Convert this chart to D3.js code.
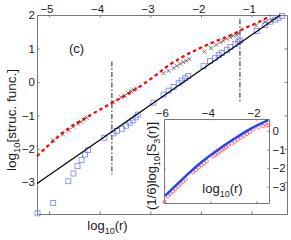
<!DOCTYPE html>
<meta charset="utf-8">
<html>
<head>
<script src="https://d3js.org/d3.v7.min.js"></script>
<style>
  body { margin: 0; background: #fff; }
  text { font-family: "Liberation Sans", Arial, Helvetica, sans-serif; fill: #1a1a1a; }
</style>
</head>
<body>
<script>
// ---- main panel data: log10(r) vs log10[struc. func.]
var xTicks = [-5, -4, -3, -2, -1];
var yTicks = [-3, -2, -1, 0, 1, 2];

// blue squares
var squares = [
  [-5.23,-3.93],[-4.92,-3.62],[-4.62,-2.97],[-4.52,-2.74],[-4.44,-2.52],[-4.36,-2.34],[-4.29,-2.17],[-4.23,-2.04],
  [-3.91,-1.67],[-3.73,-1.54],[-3.66,-1.47],
  [-3.56,-1.40],[-3.48,-1.31],[-3.41,-1.22],[-3.35,-1.15],[-3.29,-1.06],[-3.25,-0.98],
  [-2.94,-0.62],[-2.74,-0.38],[-2.64,-0.26],[-2.54,-0.15],[-2.44,-0.04],[-2.38,0.04],[-2.31,0.11],[-2.25,0.18],
  [-1.95,0.47],[-1.82,0.62],[-1.72,0.72],[-1.65,0.80],[-1.59,0.86],[-1.49,0.96],[-1.42,1.04],[-1.32,1.13],[-1.26,1.20],[-1.23,1.24],
  [-0.90,1.52],[-0.73,1.70],[-0.63,1.80],[-0.53,1.86],[-0.47,1.91],[-0.40,1.97]
];

// black x markers
var crosses = [
  [-4.92,-1.75],[-4.73,-1.57],[-4.61,-1.45],[-4.52,-1.34],[-4.43,-1.25],[-4.37,-1.19],[-4.31,-1.13],[-4.26,-1.07],
  [-3.73,-0.61],[-3.58,-0.46],[-3.51,-0.41],[-3.44,-0.33],[-3.38,-0.28],[-3.33,-0.23],[-3.28,-0.20],
  [-2.74,0.26],[-2.64,0.33],[-2.54,0.41],[-2.48,0.48],[-2.41,0.54],[-2.35,0.59],[-2.29,0.63],[-2.23,0.68],
  [-1.93,0.91],[-1.80,1.01],[-1.70,1.11],[-1.62,1.18],[-1.56,1.23],[-1.49,1.29],[-1.42,1.33],[-1.36,1.38],[-1.30,1.41],[-1.26,1.44],
  [-0.91,1.69],[-0.73,1.79],[-0.60,1.86]
];

// red dashed curve
var redCurve = [
  [-5.24,-2.22],[-4.93,-1.78],[-4.60,-1.37],[-4.27,-1.07],[-3.94,-0.78],[-3.74,-0.61],[-3.28,-0.21],
  [-2.92,0.17],[-2.67,0.46],[-2.35,0.76],[-2.02,1.01],[-1.69,1.23],[-1.36,1.43],[-1.16,1.59],
  [-0.90,1.76],[-0.73,1.89],[-0.63,1.99]
];

// black reference line
var refLine = [[-5.24,-3.04],[-0.43,2.0]];

// vertical dash-dot markers
var vlineX  = [-3.76, -1.23];
var vlineLo = [-2.77, -0.59];
var vlineHi = [0.61, 1.87];

// ---- inset data: log10(r) vs (1/6)log10[S3(r)]
var insetXTicks = [-6, -4, -2];
var insetYTicks = [-3, -2, -1, 0];

var insetBlue = [
  [-5.98,-3.49],[-5.18,-2.55],[-4.45,-1.74],[-3.73,-1.07],[-3.00,-0.46],[-2.28,0.09],[-1.48,0.57]
];

var insetCircles = [
  [-6.00,-3.80],
  [-5.85,-3.50],[-5.74,-3.37],[-5.63,-3.24],[-5.52,-3.11],[-5.41,-2.98],[-5.30,-2.85],[-5.19,-2.72],[-5.08,-2.60],
  [-4.75,-2.23],[-4.63,-2.10],[-4.51,-1.97],[-4.39,-1.84],[-4.28,-1.74],[-4.16,-1.63],
  [-3.88,-1.37],[-3.78,-1.28],[-3.69,-1.20],[-3.60,-1.12],[-3.50,-1.04],[-3.41,-0.96],[-3.32,-0.88],[-3.22,-0.80],
  [-3.07,-0.68],[-2.94,-0.57],[-2.81,-0.47],[-2.67,-0.37],[-2.54,-0.26],[-2.41,-0.17],[-2.28,-0.07],
  [-2.13,0.08],[-1.91,0.19],[-1.70,0.25],[-1.55,0.29],[-1.48,0.31]
];

var W = 291, H = 240;
var svg = d3.select("body").append("svg")
    .attr("width", W)
    .attr("height", H);

var boxColor = "#777";
var fmt = d3.format("d");

// main scales
var x = d3.scaleLinear().domain([-5.24, -0.30]).range([37, 287]);
var y = d3.scaleLinear().domain([-3.95, 2]).range([214, 15]);

function styleAxis(g) {
    g.select(".domain").attr("stroke", boxColor);
    g.selectAll(".tick line").attr("stroke", boxColor);
    g.selectAll(".tick text")
        .style("font-size", "11.5px")
        .attr("fill", "#1a1a1a");
}

// negative labels sit a bit left of their tick, as in the source
function shiftNeg(g) {
    g.selectAll(".tick text").attr("dx", function(d) { return d < 0 ? -2.7 : 0; });
}

svg.append("g")
    .attr("transform", "translate(0,15)")
    .call(d3.axisTop(x).tickValues(xTicks).tickFormat(fmt).tickSizeInner(-2.5).tickSizeOuter(0).tickPadding(2))
    .call(styleAxis).call(shiftNeg);

svg.append("g")
    .attr("transform", "translate(0,214)")
    .call(d3.axisBottom(x).tickValues(xTicks).tickSizeInner(-2.5).tickSizeOuter(0).tickFormat(""))
    .call(styleAxis);

svg.append("g")
    .attr("transform", "translate(37,0)")
    .call(d3.axisLeft(y).tickValues(yTicks).tickFormat(fmt).tickSizeInner(-2.5).tickSizeOuter(0).tickPadding(2))
    .call(styleAxis);

svg.append("g")
    .attr("transform", "translate(287,0)")
    .call(d3.axisRight(y).tickValues(yTicks).tickSizeInner(-2.5).tickSizeOuter(0).tickFormat(""))
    .call(styleAxis);

var line = d3.line()
    .x(function(d) { return x(d[0]); })
    .y(function(d) { return y(d[1]); });

// vertical dash-dot lines
svg.append("g").selectAll("line")
    .data(vlineX)
    .join("line")
    .attr("x1", function(d) { return x(d); })
    .attr("x2", function(d) { return x(d); })
    .attr("y1", function(d, i) { return y(vlineHi[i]); })
    .attr("y2", function(d, i) { return y(vlineLo[i]); })
    .attr("stroke", "#333")
    .attr("stroke-width", 1.1)
    .attr("stroke-dasharray", "5,2,1.5,2");

// blue squares
svg.append("g").selectAll("rect")
    .data(squares)
    .join("rect")
    .attr("x", function(d) { return x(d[0]) - 2.5; })
    .attr("y", function(d) { return y(d[1]) - 2.5; })
    .attr("width", 5)
    .attr("height", 5)
    .attr("fill", "none")
    .attr("stroke", "#6f7fff")
    .attr("stroke-width", 0.8);

// reference line
svg.append("path")
    .datum(refLine)
    .attr("d", line)
    .attr("fill", "none")
    .attr("stroke", "#000")
    .attr("stroke-width", 1.2);

// crosses
svg.append("g").selectAll("path")
    .data(crosses)
    .join("path")
    .attr("d", function(d) {
        var cx = x(d[0]), cy = y(d[1]), s = 2;
        return "M" + (cx - s) + "," + (cy - s) + "L" + (cx + s) + "," + (cy + s) +
               "M" + (cx - s) + "," + (cy + s) + "L" + (cx + s) + "," + (cy - s);
    })
    .attr("stroke", "#555")
    .attr("stroke-width", 0.8)
    .attr("fill", "none");

// red dashed curve
svg.append("path")
    .datum(redCurve)
    .attr("d", line.curve(d3.curveMonotoneX))
    .attr("fill", "none")
    .attr("stroke", "#f00")
    .attr("stroke-width", 2.2)
    .attr("stroke-dasharray", "3.5,3");
line.curve(d3.curveLinear);

// panel tag and labels
svg.append("text")
    .attr("x", 76.5).attr("y", 52.5)
    .attr("text-anchor", "middle")
    .style("font-size", "13px")
    .text("(c)");

var xl = svg.append("text")
    .attr("x", 107.5).attr("y", 230)
    .attr("text-anchor", "middle")
    .style("font-size", "13px");
xl.append("tspan").text("log");
xl.append("tspan").text("10").style("font-size", "9px").attr("dy", 4);
xl.append("tspan").text("(r)").attr("dy", -4);

var yl = svg.append("text")
    .attr("transform", "translate(16,120) rotate(-90)")
    .attr("text-anchor", "middle")
    .style("font-size", "13.5px");
yl.append("tspan").text("log");
yl.append("tspan").text("10").style("font-size", "9.5px").attr("dy", 4);
yl.append("tspan").text("[struc. func.]").attr("dy", -4);

// ---- inset
var ix = d3.scaleLinear().domain([-6.02, -1.45]).range([164, 269]);
var iy = d3.scaleLinear().domain([-3.87, 0.63]).range([203, 119]);

svg.append("rect")
    .attr("x", 164).attr("y", 119)
    .attr("width", 105).attr("height", 84)
    .attr("fill", "#fff");

svg.append("g")
    .attr("transform", "translate(0,119)")
    .call(d3.axisTop(ix).tickValues(insetXTicks).tickFormat(fmt).tickSizeInner(-1.5).tickSizeOuter(0).tickPadding(2))
    .call(styleAxis).call(shiftNeg);

svg.append("g")
    .attr("transform", "translate(0,203)")
    .call(d3.axisBottom(ix).tickValues(insetXTicks).tickSizeInner(-1.5).tickSizeOuter(0).tickFormat(""))
    .call(styleAxis);

svg.append("g")
    .attr("transform", "translate(164,0)")
    .call(d3.axisLeft(iy).tickValues(insetYTicks).tickSizeInner(-1.5).tickSizeOuter(0).tickFormat(""))
    .call(styleAxis);

svg.append("g")
    .attr("transform", "translate(269,0)")
    .call(d3.axisRight(iy).tickValues(insetYTicks).tickFormat(fmt).tickSizeInner(-1.5).tickSizeOuter(0).tickPadding(3.5))
    .call(styleAxis);

var iline = d3.line()
    .x(function(d) { return ix(d[0]); })
    .y(function(d) { return iy(d[1]); })
    .curve(d3.curveMonotoneX);

svg.append("g").selectAll("circle")
    .data(insetCircles)
    .join("circle")
    .attr("cx", function(d) { return ix(d[0]); })
    .attr("cy", function(d) { return iy(d[1]); })
    .attr("r", 1.7)
    .attr("fill", "none")
    .attr("stroke", "#ff5555")
    .attr("stroke-width", 0.8);

svg.append("path")
    .datum(insetBlue)
    .attr("d", iline)
    .attr("fill", "none")
    .attr("stroke", "#2244ff")
    .attr("stroke-width", 2.4);

var ixl = svg.append("text")
    .attr("x", 222.5).attr("y", 193)
    .attr("text-anchor", "middle")
    .style("font-size", "13px");
ixl.append("tspan").text("log");
ixl.append("tspan").text("10").style("font-size", "9px").attr("dy", 4);
ixl.append("tspan").text("(r)").attr("dy", -4);

var iyl = svg.append("text")
    .attr("transform", "translate(156,166) rotate(-90)")
    .attr("text-anchor", "middle")
    .style("font-size", "13px");
iyl.append("tspan").text("(1/6)log");
iyl.append("tspan").text("10").style("font-size", "9px").attr("dy", 4);
iyl.append("tspan").text("[S").attr("dy", -4);
iyl.append("tspan").text("3").style("font-size", "9px").attr("dy", 4);
iyl.append("tspan").text("(r)]").attr("dy", -4);
</script>
</body>
</html>
